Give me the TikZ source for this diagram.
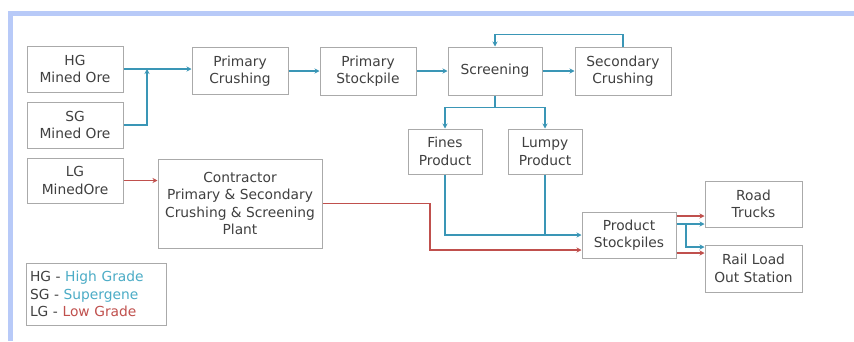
\documentclass[tikz,border=0pt]{standalone}
\usepackage{fontspec}
\setmainfont{DejaVu Sans}
\usetikzlibrary{arrows.meta,calc}
\definecolor{frameblue}{RGB}{184,202,248}
\definecolor{flowteal}{RGB}{58,150,182}
\definecolor{legteal}{RGB}{75,172,198}
\definecolor{flowred}{RGB}{192,80,77}
\definecolor{txtgray}{RGB}{64,64,64}
\definecolor{boxgray}{RGB}{170,170,170}
\begin{document}
\begin{tikzpicture}[x=1pt,y=-1pt,
  blk/.style={draw=boxgray,line width=1pt,fill=white,inner sep=0pt,align=center,
    text=txtgray,font=\fontsize{13.8}{17.5}\selectfont},
  tflow/.style={draw=flowteal,line width=1.2pt,-{Stealth[length=5pt,width=5pt]}},
  rflow/.style={draw=flowred,line width=1.2pt,-{Stealth[length=5pt,width=5pt]}},
  tline/.style={draw=flowteal,line width=1.2pt}]
\useasboundingbox (0,0) rectangle (854,341);
\fill[white] (0,0) rectangle (854,341);
\fill[frameblue] (8,11) rectangle (854,16);
\fill[frameblue] (8,11) rectangle (13,341);

\node[blk,minimum width=96pt,minimum height=46pt] (hg) at (75,69) {HG\\Mined Ore};
\node[blk,minimum width=96pt,minimum height=46pt] (sg) at (75,125) {SG\\Mined Ore};
\node[blk,minimum width=96pt,minimum height=45pt] (lg) at (75,180.5) {LG\\MinedOre};
\node[blk,minimum width=164pt,minimum height=89pt] (con) at (240,203.5) {Contractor\\Primary \& Secondary\\Crushing \& Screening\\Plant};
\node[blk,minimum width=140pt,minimum height=62pt,align=left,text width=132pt,inner sep=0pt] (leg) at (96,294)
  {HG - \textcolor{legteal}{High Grade}\\SG - \textcolor{legteal}{Supergene}\\LG - \textcolor{flowred}{Low Grade}};
\node[blk,minimum width=96pt,minimum height=47pt] (pc) at (240,71) {Primary\\Crushing};
\node[blk,minimum width=96pt,minimum height=48pt] (ps) at (368,71) {Primary\\Stockpile};
\node[blk,minimum width=94pt,minimum height=48pt] (scr) at (495,71) {Screening};
\node[blk,minimum width=96pt,minimum height=48pt] (sec) at (623,71) {Secondary\\Crushing};
\node[blk,minimum width=74pt,minimum height=45pt] (fin) at (445,151.5) {Fines\\Product};
\node[blk,minimum width=74pt,minimum height=45pt] (lum) at (545,151.5) {Lumpy\\Product};
\node[blk,minimum width=94pt,minimum height=46pt] (pst) at (629,235) {Product\\Stockpiles};
\node[blk,minimum width=97pt,minimum height=46pt] (road) at (753.5,204) {Road\\Trucks};
\node[blk,minimum width=97pt,minimum height=47pt] (rail) at (753.5,268.5) {Rail Load\\Out Station};

% top row
\coordinate (j1) at (147,69);
\draw[tflow] (hg.east) -- (hg.east -| pc.west);
\draw[tflow] (sg.east) -| (j1);
\draw[tflow] (pc.east) -- (ps.west);
\draw[tflow] (ps.east) -- (scr.west);
\draw[tflow] (scr.east) -- (sec.west);
\draw[tflow] (sec.north) -- ++(0,-12) -| (scr.north);
% screening split
\draw[tline] (scr.south) -- ++(0,12) coordinate (sp);
\draw[tflow] (sp) -| (fin.north);
\draw[tflow] (sp) -| (lum.north);
% products to stockpile
\draw[tflow] (fin.south) |- (pst.west);
\draw[tline] (lum.south) -- (lum.south |- pst.west);
% low grade route
\draw[rflow] (lg.east) -- (lg.east -| con.west);
\coordinate (j2) at (430,0);
\coordinate (pin2) at ($(pst.west)+(0,15)$);
\draw[rflow] (con.east) -- (con.east -| j2) |- (pin2);
% outputs
\coordinate (r1) at ($(pst.east)+(0,-19)$);
\coordinate (t1) at ($(pst.east)+(0,-11)$);
\coordinate (t2) at ($(pst.east)+(0,12)$);
\coordinate (r2) at ($(pst.east)+(0,18)$);
\coordinate (jx) at (686,0);
\draw[rflow] (r1) -- (r1 -| road.west);
\draw[tflow] (t1) -- (t1 -| road.west);
\draw[tflow] (t1 -| jx) |- (t2 -| rail.west);
\draw[rflow] (r2) -- (r2 -| rail.west);
\end{tikzpicture}
\end{document}
